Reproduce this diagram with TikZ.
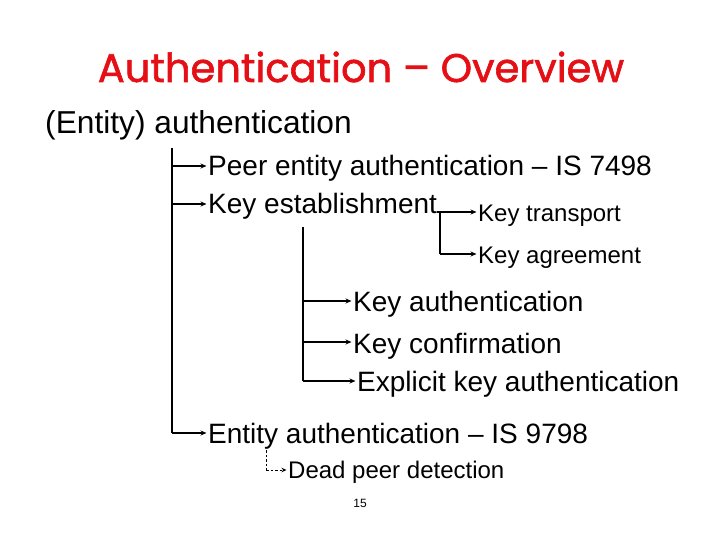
\documentclass[tikz,border=0pt]{standalone}
\usepackage{fontspec}
\setmainfont{Liberation Sans}
\newfontfamily\titlefont[FakeBold=1.5]{Poppins}
\usetikzlibrary{arrows.meta,calc}
\definecolor{titlered}{RGB}{228,16,22}
\begin{document}
\begin{tikzpicture}[x=1pt,y=-1pt,
  lbl/.style={anchor=base west,inner sep=0pt,font=\fontsize{28}{30}\selectfont},
  sml/.style={anchor=base west,inner sep=0pt,font=\fontsize{24}{26}\selectfont},
  trunk/.style={line width=1.3pt},
  arr/.style={line width=1.3pt,-{Stealth[length=6pt,width=5pt]},shorten >=1.5pt},
  darr/.style={line width=0.8pt,dash pattern=on 2.5pt off 2pt,-{Stealth[length=5pt,width=4.5pt]},shorten >=1.5pt}]
\useasboundingbox (0,0) rectangle (720,540);
\node[anchor=base,inner sep=0pt,text=titlered,font=\titlefont\fontsize{40}{42}\selectfont] (title) at (361,82) {Authentication – Overview};
\node[anchor=base west,inner sep=0pt,font=\fontsize{31.7}{33}\selectfont] (ent) at (45,134) {(Entity) authentication};
\node[lbl] (peer) at (208,176) {Peer entity authentication – IS 7498};
\node[lbl] (kest) at (208,214) {Key establishment};
\node[sml] (ktr) at (478,222) {Key transport};
\node[sml] (kag) at (478,263) {Key agreement};
\node[lbl] (kauth) at (353,311) {Key authentication};
\node[lbl] (kconf) at (353,353) {Key confirmation};
\node[lbl] (kexp) at (357,391) {Explicit key authentication};
\node[lbl] (eauth) at (208,443) {Entity authentication – IS 9798};
\node[sml] (dead) at (288,478) {Dead peer detection};
\node[anchor=center,inner sep=0pt,font=\fontsize{12}{14}\selectfont] (page) at (360,503) {15};
% main trunk
\coordinate (m0) at (172,148);
\coordinate (m1) at (172,166);
\coordinate (m2) at (172,204);
\coordinate (m3) at (172,433);
\draw[trunk] (m0) -- (m3);
\draw[arr] (m1) -- (m1 -| peer.west);
\draw[arr] (m2) -- (m2 -| kest.west);
\draw[arr] (m3) -- (m3 -| eauth.west);
% key establishment branch
\coordinate (k0) at (437,212);
\coordinate (k1) at (440,212);
\coordinate (k2) at (440,254);
\draw[line width=1.2pt] (k0) -- (k1) -- (k2);
\draw[arr,line width=1.2pt] (k1) -- (k1 -| ktr.west);
\draw[arr,line width=1.2pt] (k2) -- (k2 -| kag.west);
% key authentication trunk
\coordinate (s0) at (303,227);
\coordinate (s1) at (303,301);
\coordinate (s2) at (303,342);
\coordinate (s3) at (303,381);
\draw[line width=2.2pt] (s0) -- (s3);
\draw[arr,line width=2pt] (s1) -- (s1 -| kauth.west);
\draw[arr,line width=1.1pt] (s2) -- (s2 -| kconf.west);
\draw[arr,line width=2pt] (s3) -- (s3 -| kexp.west);
% dashed
\coordinate (d0) at (266,450);
\coordinate (d1) at (266,470);
\draw[dash pattern=on 2.5pt off 2pt,line width=0.8pt] (d0) -- (d1);
\draw[darr] (d1) -- (d1 -| dead.west);
\end{tikzpicture}
\end{document}
